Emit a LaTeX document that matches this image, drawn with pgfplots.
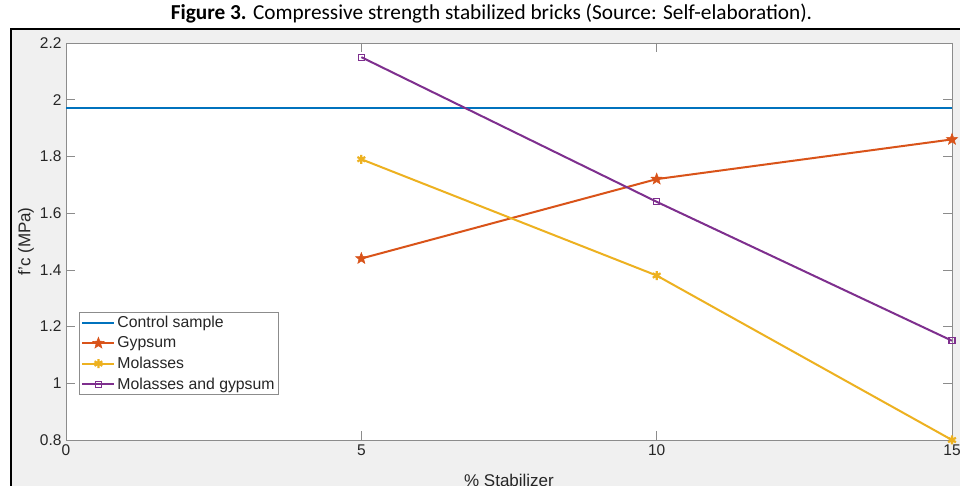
\documentclass[border=0pt]{standalone}
\usepackage{pgfplots}
\pgfplotsset{compat=1.18}
\usepackage{fontspec}
\setmainfont{Liberation Sans}
\newfontfamily\carlito{Carlito}
\definecolor{mblue}{RGB}{0,114,189}
\definecolor{morange}{RGB}{217,83,25}
\definecolor{myellow}{RGB}{237,177,32}
\definecolor{mpurple}{RGB}{126,47,142}
\definecolor{bggray}{RGB}{240,240,240}
\definecolor{axgray}{RGB}{140,140,140}
\definecolor{txtgray}{RGB}{38,38,38}
\pgfdeclareplotmark{fstar}{%
  \pgfpathmoveto{\pgfqpointpolar{90}{\pgfplotmarksize}}%
  \pgfpathlineto{\pgfqpointpolar{126}{0.42\pgfplotmarksize}}%
  \pgfpathlineto{\pgfqpointpolar{162}{\pgfplotmarksize}}%
  \pgfpathlineto{\pgfqpointpolar{198}{0.42\pgfplotmarksize}}%
  \pgfpathlineto{\pgfqpointpolar{234}{\pgfplotmarksize}}%
  \pgfpathlineto{\pgfqpointpolar{270}{0.42\pgfplotmarksize}}%
  \pgfpathlineto{\pgfqpointpolar{306}{\pgfplotmarksize}}%
  \pgfpathlineto{\pgfqpointpolar{342}{0.42\pgfplotmarksize}}%
  \pgfpathlineto{\pgfqpointpolar{18}{\pgfplotmarksize}}%
  \pgfpathlineto{\pgfqpointpolar{54}{0.42\pgfplotmarksize}}%
  \pgfpathclose
  \pgfusepathqfillstroke}
\begin{document}
\begin{tikzpicture}[x=1pt,y=1pt]
\useasboundingbox (0,0) rectangle (960,486);
\fill[white] (0,0) rectangle (960,486);
\fill[bggray] (10,0) rectangle (960,457);
\draw[black, line width=1.6pt] (10.8,0) -- (10.8,457.2) -- (960,457.2);
\node[font=\carlito\fontsize{21.3}{24}\selectfont, anchor=base] at (491.5,466) {\textbf{Figure 3.} Compressive strength stabilized bricks (Source: Self-elaboration).};
\begin{axis}[at={(66pt,46pt)}, anchor=south west, width=886pt, height=397pt, scale only axis,
  xmin=0, xmax=15, ymin=0.8, ymax=2.2,
  axis background/.style={fill=white},
  xtick={0,5,10,15},
  ytick={0.8,1,1.2,1.4,1.6,1.8,2,2.2},
  yticklabels={0.8,1,1.2,1.4,1.6,1.8,2,2.2},
  tick align=inside, major tick length=9pt,
  tick style={axgray, line width=0.7pt},
  axis line style={axgray, line width=0.9pt},
  /pgf/number format/assume math mode=true,
  ticklabel style={font=\fontsize{15.5}{18}\selectfont, text=txtgray},
  xticklabel style={yshift=-1pt},
  yticklabel style={xshift=-1pt},
  xlabel={\% Stabilizer}, ylabel={f’c (MPa)},
  label style={font=\fontsize{17}{19}\selectfont, text=txtgray},
  xlabel style={at={(axis description cs:0.5,-0.1008)}, anchor=center},
  ylabel style={at={(axis description cs:-0.0451,0.5)}, anchor=center},
  legend cell align=left,
  legend style={at={(axis description cs:0.0147,0.3224)}, anchor=north west, draw=axgray, fill=white,
    font=\fontsize{15.8}{17}\selectfont, text=txtgray, inner sep=2pt, row sep=3.6pt, line width=0.8pt},
  legend image code/.code={\draw[mark repeat=2,mark phase=2,#1] plot coordinates {(0pt,0pt)(16pt,0pt)(32pt,0pt)};},
]
\addplot[mblue, line width=2pt, mark=none] coordinates {(0,1.97) (15,1.97)};
\addlegendentry{Control sample}
\addplot[morange, line width=2pt, mark=fstar, mark size=6pt, mark options={fill=morange, line width=0.5pt}] coordinates {(5,1.44) (10,1.72) (15,1.86)};
\addlegendentry{Gypsum}
\addplot[myellow, line width=2pt, mark=asterisk, mark size=4.5pt, mark options={line width=2.2pt}] coordinates {(5,1.79) (10,1.38) (15,0.80)};
\addlegendentry{Molasses}
\addplot[mpurple, line width=2pt, mark=square, mark size=3pt, mark options={line width=1.1pt}] coordinates {(5,2.15) (10,1.64) (15,1.15)};
\addlegendentry{Molasses and gypsum}
\end{axis}
\end{tikzpicture}
\end{document}
